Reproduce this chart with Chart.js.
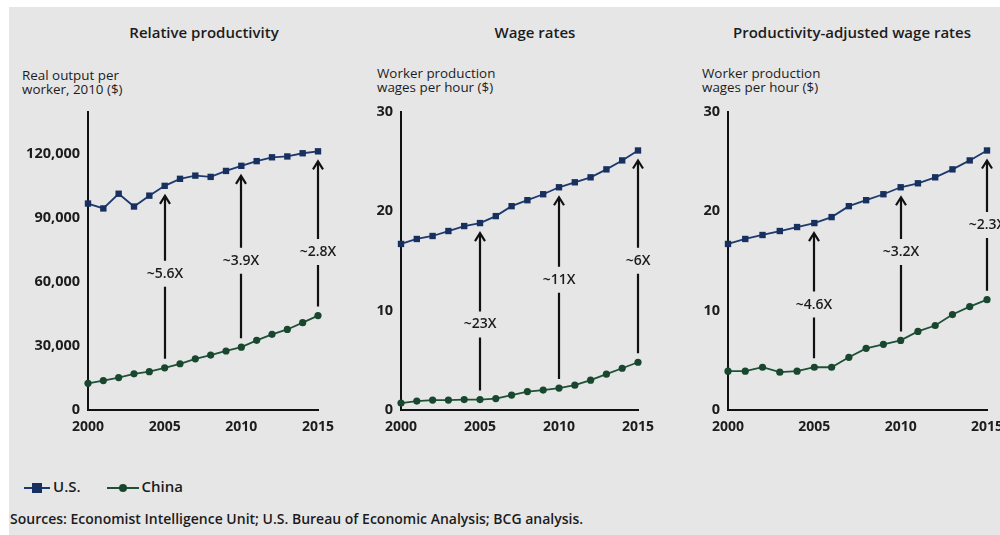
<!DOCTYPE html>
<html>
<head>
<meta charset="utf-8">
<script src="https://cdn.jsdelivr.net/npm/chart.js@4"></script>
<style>
  html, body { margin: 0; padding: 0; background: #ffffff; overflow: hidden; }
  body { width: 1000px; height: 535px; position: relative; font-family: "Open Sans", sans-serif; color: #1c1c1c; }
  #bg { position: absolute; left: 9px; top: 7px; width: 991px; height: 528px; background: #e6e6e7; }
  .panel { position: absolute; top: 95px; height: 345px; }
  .title { position: absolute; top: 22px; font-size: 15px; font-weight: 600; white-space: nowrap; transform: translateX(-50%); }
  .unit { position: absolute; top: 66px; font-size: 13.4px; line-height: 14px; white-space: nowrap; }
  #legend { position: absolute; left: 24px; top: 474px; font-size: 15px; font-weight: 600; white-space: nowrap; }
  .item { display: inline-block; margin-right: 22px; vertical-align: middle; }
  .mark { display: inline-block; position: relative; width: 26px; height: 10px; vertical-align: middle; margin-right: 3px; }
  .mark .ln { position: absolute; left: 0; right: 0; top: 4px; height: 2px; }
  .mark .sym { position: absolute; left: 8px; top: 0; width: 10px; height: 10px; }
  #sources { position: absolute; left: 10px; top: 509px; font-size: 14px; font-weight: 600; white-space: nowrap; }
</style>
</head>
<body>
<div id="bg"></div>

<div class="title" style="left:204px">Relative productivity</div>
<div class="title" style="left:535px">Wage rates</div>
<div class="title" style="left:852px">Productivity-adjusted wage rates</div>

<div class="unit" style="left:22px;top:68px">Real output per<br>worker, 2010 ($)</div>
<div class="unit" style="left:377px">Worker production<br>wages per hour ($)</div>
<div class="unit" style="left:702px">Worker production<br>wages per hour ($)</div>

<div class="panel" style="left:0px;width:345px"><canvas id="chart1"></canvas></div>
<div class="panel" style="left:330px;width:335px"><canvas id="chart2"></canvas></div>
<div class="panel" style="left:660px;width:355px"><canvas id="chart3"></canvas></div>

<div id="legend">
  <span class="item"><span class="mark"><span class="ln" style="background:#1d3a6e"></span><span class="sym" style="background:#17305f"></span></span>U.S.</span>
  <span class="item"><span class="mark" style="width:32px"><span class="ln" style="background:#1d5236"></span><span class="sym" style="background:#18472e;border-radius:50%;width:8px;height:8px;top:1px;left:12px"></span></span>China</span>
</div>
<div id="sources">Sources: Economist Intelligence Unit; U.S. Bureau of Economic Analysis; BCG analysis.</div>

<script>
// years shared by all three panels
const years = [2000, 2001, 2002, 2003, 2004, 2005, 2006, 2007, 2008, 2009, 2010, 2011, 2012, 2013, 2014, 2015];
const yearTicks = [2000, 2005, 2010, 2015];

// Relative productivity (real output per worker, 2010 $)
const usProductivity = [96900, 94600, 101500, 95500, 100600, 105200, 108500, 110000, 109400, 112200, 114600, 116800, 118600, 119000, 120500, 121400];
const chinaProductivity = [12500, 13800, 15200, 17000, 18000, 19800, 21700, 24000, 25800, 27700, 29500, 32700, 35500, 37800, 41000, 44300];
const productivityTicks = [0, 30000, 60000, 90000, 120000];

// Wage rates ($ per hour)
const usWages = [16.7, 17.2, 17.5, 18.0, 18.5, 18.8, 19.5, 20.5, 21.1, 21.7, 22.4, 22.9, 23.4, 24.2, 25.1, 26.1];
const chinaWages = [0.7, 0.9, 1.0, 1.0, 1.05, 1.05, 1.15, 1.5, 1.85, 2.0, 2.2, 2.5, 3.0, 3.6, 4.2, 4.8];
const wageTicks = [0, 10, 20, 30];

// Productivity-adjusted wage rates ($ per hour)
const usAdjWages = [16.7, 17.2, 17.6, 18.0, 18.4, 18.8, 19.4, 20.5, 21.1, 21.7, 22.4, 22.8, 23.4, 24.2, 25.1, 26.1];
const chinaAdjWages = [3.9, 3.9, 4.3, 3.8, 3.9, 4.3, 4.3, 5.3, 6.2, 6.6, 7.0, 7.9, 8.5, 9.6, 10.4, 11.1];

// gap arrows: years, labels and where each label sits (in axis units)
const arrowYears = [2005, 2010, 2015];
const productivityGaps = ['~5.6X', '~3.9X', '~2.8X'];
const productivityGapAt = [64000, 70000, 74100];
const wageGaps = ['~23X', '~11X', '~6X'];
const wageGapAt = [8.6, 13.1, 15.0];
const adjWageGaps = ['~4.6X', '~3.2X', '~2.3X'];
const adjWageGapAt = [10.6, 15.9, 18.6];

const US_COLOR = '#1d3a6e';
const US_FILL = '#17305f';
const CHINA_COLOR = '#1d5236';
const CHINA_FILL = '#18472e';
const TEXT_COLOR = '#1c1c1c';
const FONT = '"Open Sans", sans-serif';

// draws the vertical arrows from China up to U.S. with the ratio label in a gap
const gapArrows = {
    id: 'gapArrows',
    afterDatasetsDraw(chart, args, opts) {
        const ctx = chart.ctx;
        const xs = chart.scales.x, ys = chart.scales.y;
        const us = chart.data.datasets[0].data, cn = chart.data.datasets[1].data;
        ctx.save();
        ctx.strokeStyle = '#111111';
        ctx.fillStyle = TEXT_COLOR;
        ctx.lineWidth = 2.2;
        ctx.font = '600 14px ' + FONT;
        ctx.textAlign = 'center';
        ctx.textBaseline = 'middle';
        opts.years.forEach((yr, i) => {
            const idx = years.indexOf(yr);
            const x = Math.round(xs.getPixelForValue(yr));
            const yLow = ys.getPixelForValue(cn[idx].y) - 9;
            const yHigh = ys.getPixelForValue(us[idx].y) + 10;
            const yLab = ys.getPixelForValue(opts.at[i]);
            ctx.beginPath();
            ctx.moveTo(x, yLow);
            ctx.lineTo(x, yLab + 13);
            ctx.moveTo(x, yLab - 13);
            ctx.lineTo(x, yHigh + 1);
            ctx.stroke();
            ctx.beginPath();
            ctx.moveTo(x - 5, yHigh + 8);
            ctx.lineTo(x, yHigh);
            ctx.lineTo(x + 5, yHigh + 8);
            ctx.stroke();
            ctx.fillText(opts.labels[i], x, yLab);
        });
        ctx.restore();
    }
};

function points(values) {
    return values.map((v, i) => ({ x: years[i], y: v }));
}

function makeChart(id, usValues, chinaValues, yMax, yTicks, yWidth, padRight, arrows) {
    return new Chart(document.getElementById(id), {
        type: 'line',
        data: {
            datasets: [
                {
                    label: 'U.S.',
                    data: points(usValues),
                    borderColor: US_COLOR,
                    backgroundColor: US_FILL,
                    borderWidth: 1.8,
                    pointStyle: 'rect',
                    pointRadius: 4.5,
                    pointBorderWidth: 0,
                    tension: 0,
                    clip: false
                },
                {
                    label: 'China',
                    data: points(chinaValues),
                    borderColor: CHINA_COLOR,
                    backgroundColor: CHINA_FILL,
                    borderWidth: 1.8,
                    pointStyle: 'circle',
                    pointRadius: 3.6,
                    pointBorderWidth: 0,
                    tension: 0,
                    clip: false
                }
            ]
        },
        options: {
            responsive: true,
            maintainAspectRatio: false,
            animation: false,
            events: [],
            layout: { padding: { top: 9, right: padRight, left: 0, bottom: 0 } },
            plugins: {
                legend: { display: false },
                tooltip: { enabled: false },
                gapArrows: arrows
            },
            scales: {
                x: {
                    type: 'linear',
                    min: 2000,
                    max: 2015,
                    grid: { display: false, drawTicks: false },
                    border: { display: true, color: '#111111', width: 2 },
                    ticks: {
                        padding: 9,
                        color: TEXT_COLOR,
                        font: { family: FONT, size: 14, weight: '700' },
                        maxRotation: 0,
                        callback: v => String(v)
                    },
                    afterBuildTicks: s => { s.ticks = yearTicks.map(v => ({ value: v })); },
                    afterFit: s => { s.height = 30; }
                },
                y: {
                    min: 0,
                    max: yMax,
                    grid: { display: false, drawTicks: false },
                    border: { display: true, color: '#111111', width: 2 },
                    ticks: {
                        padding: 8,
                        color: TEXT_COLOR,
                        font: { family: FONT, size: 14.5, weight: '700' },
                        callback: v => v.toLocaleString('en-US')
                    },
                    afterBuildTicks: s => { s.ticks = yTicks.map(v => ({ value: v })); },
                    afterFit: s => { s.width = yWidth; }
                }
            }
        },
        plugins: [gapArrows]
    });
}

makeChart('chart1', usProductivity, chinaProductivity, 140000, productivityTicks, 88, 27,
    { years: arrowYears, labels: productivityGaps, at: productivityGapAt });
makeChart('chart2', usWages, chinaWages, 30, wageTicks, 71, 27,
    { years: arrowYears, labels: wageGaps, at: wageGapAt });
makeChart('chart3', usAdjWages, chinaAdjWages, 30, wageTicks, 68, 28,
    { years: arrowYears, labels: adjWageGaps, at: adjWageGapAt });
</script>
</body>
</html>
